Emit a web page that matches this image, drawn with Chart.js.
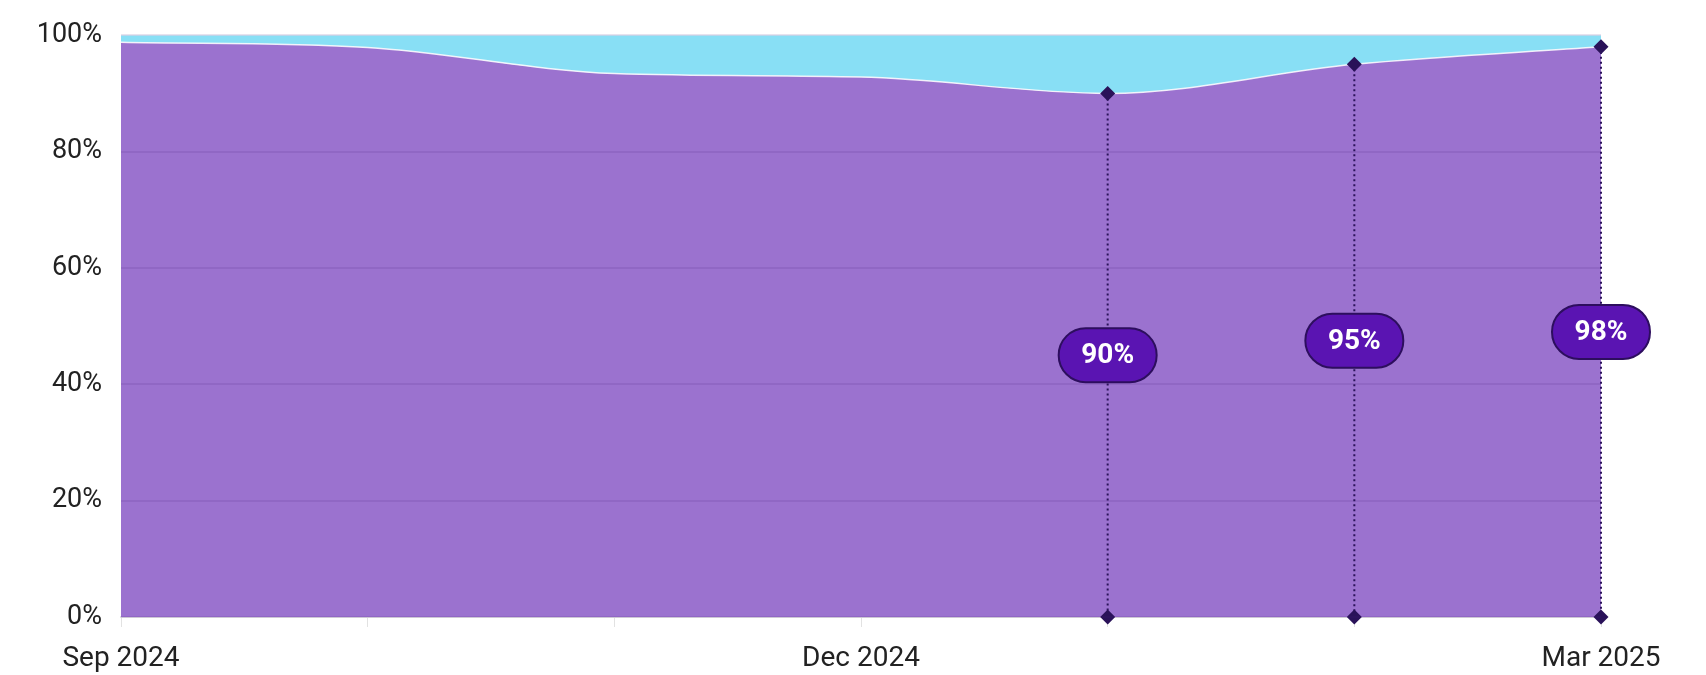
<!DOCTYPE html>
<html>
<head>
<meta charset="utf-8">
<script src="https://cdn.jsdelivr.net/npm/chart.js@4.4.1/dist/chart.umd.min.js"></script>
<style>
  html, body { margin: 0; padding: 0; background: #fff; }
  #wrap { width: 1706px; height: 675px; position: relative; }
</style>
</head>
<body>
<div id="wrap"><canvas id="shareChart"></canvas></div>
<script>
// monthly share, stacked to 100%
const months = ['Sep 2024', 'Oct 2024', 'Nov 2024', 'Dec 2024', 'Jan 2025', 'Feb 2025', 'Mar 2025'];
const share = [98.8, 97.9, 93.4, 92.8, 90, 95, 98];
const other = [1.2, 2.1, 6.6, 7.2, 10, 5, 2];
const yTicks = [0, 20, 40, 60, 80, 100];
const highlighted = [4, 5, 6];

const DARK = '#2a1259';

// dotted drop lines, bottom diamonds and value pills for the highlighted months
const markers = {
  id: 'markers',
  afterDatasetsDraw(chart) {
    const { ctx, scales: { x, y } } = chart;
    ctx.save();
    highlighted.forEach(i => {
      const px = x.getPixelForValue(i);
      const top = y.getPixelForValue(share[i]);
      const bottom = y.getPixelForValue(0);

      ctx.strokeStyle = DARK;
      ctx.lineWidth = 2;
      ctx.setLineDash([2, 3]);
      ctx.beginPath();
      ctx.moveTo(px, top);
      ctx.lineTo(px, bottom);
      ctx.stroke();
      ctx.setLineDash([]);

      diamond(ctx, px, top);
      diamond(ctx, px, bottom);

      // pill label halfway down
      const cy = y.getPixelForValue(share[i] / 2);
      const w = 98, h = 54, r = h / 2;
      ctx.beginPath();
      ctx.roundRect(px - w / 2, cy - h / 2, w, h, r);
      ctx.fillStyle = '#5a14b2';
      ctx.fill();
      ctx.lineWidth = 2;
      ctx.strokeStyle = '#2d0e5e';
      ctx.stroke();

      ctx.fillStyle = '#ffffff';
      ctx.font = 'bold 28px Roboto';
      ctx.textAlign = 'center';
      ctx.textBaseline = 'middle';
      ctx.fillText(share[i] + '%', px, cy + 1);
    });
    ctx.restore();
  }
};

function diamond(ctx, x, y) {
  const s = 7.5;
  ctx.beginPath();
  ctx.moveTo(x, y - s);
  ctx.lineTo(x + s, y);
  ctx.lineTo(x, y + s);
  ctx.lineTo(x - s, y);
  ctx.closePath();
  ctx.fillStyle = DARK;
  ctx.fill();
}

new Chart(document.getElementById('shareChart'), {
  type: 'line',
  data: {
    labels: months,
    datasets: [
      {
        label: 'Share',
        data: share,
        fill: 'origin',
        backgroundColor: '#9b72cf',
        borderColor: 'rgba(255,255,255,0.85)',
        borderWidth: 1.5,
        pointRadius: 0,
        cubicInterpolationMode: 'monotone'
      },
      {
        label: 'Other',
        data: other,
        fill: '-1',
        backgroundColor: '#88dff5',
        borderColor: 'rgba(0,0,0,0)',
        borderWidth: 0,
        pointRadius: 0,
        cubicInterpolationMode: 'monotone'
      }
    ]
  },
  options: {
    responsive: true,
    maintainAspectRatio: false,
    animation: false,
    layout: { padding: { top: 25, right: 105, bottom: 0, left: 0 } },
    plugins: {
      legend: { display: false },
      tooltip: { enabled: false }
    },
    scales: {
      x: {
        offset: false,
        afterFit: s => { s.height = 58; },
        border: { display: true, color: '#e2e2e2', width: 2 },
        grid: {
          drawOnChartArea: false,
          drawTicks: true,
          tickLength: 10,
          color: '#e2e2e2'
        },
        ticks: {
          autoSkip: false,
          maxRotation: 0,
          padding: 15,
          color: '#222',
          font: { family: 'Roboto', size: 28 },
          callback: (v, i) => (i % 3 === 0 ? months[i] : '')
        }
      },
      y: {
        stacked: true,
        min: 0,
        max: 100,
        afterFit: s => { s.width = 121; },
        afterBuildTicks: s => { s.ticks = yTicks.map(v => ({ value: v })); },
        border: { display: false },
        grid: {
          z: 1,
          drawTicks: false,
          color: 'rgba(70,30,120,0.13)',
          lineWidth: 2
        },
        ticks: {
          padding: 19,
          color: '#222',
          font: { family: 'Roboto', size: 27 },
          callback: v => v + '%'
        }
      }
    }
  },
  plugins: [markers]
});
</script>
</body>
</html>
